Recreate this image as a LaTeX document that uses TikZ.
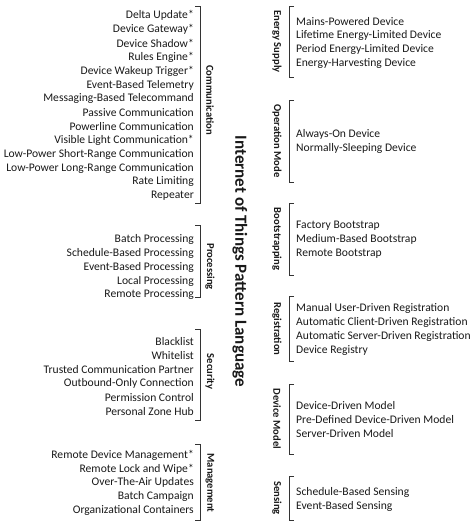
\documentclass[tikz,border=0pt]{standalone}
\usepackage{fontspec}
\setmainfont{Carlito}
\usepackage{tikz}

\begin{document}
\begin{tikzpicture}[x=1pt, y=-1pt, every node/.style={font=\fontsize{11.6}{13}\selectfont, inner sep=0pt, text=black!90},
    lefttext/.style={anchor=east}, righttext/.style={anchor=west},
    grouplabel/.style={font=\bfseries\fontsize{10.6}{12}\selectfont, rotate=-90},
    bracket/.style={draw=black!80, line width=1pt}]
    \useasboundingbox (0,0) rectangle (474,527);

    % Title
    \node[font=\bfseries\fontsize{17}{19}\selectfont, rotate=-90] (title) at (240, 261.5) {Internet of Things Pattern Language};

    % Communication
    \foreach \i/\txt in {0/Delta Update*, 1/Device Gateway*, 2/Device Shadow*, 3/Rules Engine*, 4/Device Wakeup Trigger*, 5/Event-Based Telemetry, 6/Messaging-Based Telecommand, 7/Passive Communication, 8/Powerline Communication, 9/Visible Light Communication*, 10/Low-Power Short-Range Communication, 11/Low-Power Long-Range Communication, 12/Rate Limiting, 13/Repeater} {
        \node[lefttext] (comm\i) at (194, 15.7+\i*13.85) {\txt};
    }
    \draw[bracket] (195,7) -- (200,7) -- (200,203) -- (195,203);
    \node[grouplabel] (commlabel) at (210, 100) {Communication};

    % Processing
    \foreach \i/\txt in {0/Batch Processing, 1/Schedule-Based Processing, 2/Event-Based Processing, 3/Local Processing, 4/Remote Processing} {
        \node[lefttext] (proc\i) at (194, 239.3+\i*13.9) {\txt};
    }
    \draw[bracket] (195,225.7) -- (200,225.7) -- (200,297) -- (195,297);
    \node[grouplabel] (proclabel) at (210, 266.7) {Processing};

    % Security
    \foreach \i/\txt in {0/Blacklist, 1/Whitelist, 2/Trusted Communication Partner, 3/Outbound-Only Connection, 4/Permission Control, 5/Personal Zone Hub} {
        \node[lefttext] (sec\i) at (194, 341.7+\i*13.9) {\txt};
    }
    \draw[bracket] (195,329) -- (200,329) -- (200,420.7) -- (195,420.7);
    \node[grouplabel] (seclabel) at (210, 371.7) {Security};

    % Management
    \foreach \i/\txt in {0/Remote Device Management*, 1/Remote Lock and Wipe*, 2/Over-The-Air Updates, 3/Batch Campaign, 4/Organizational Containers} {
        \node[lefttext] (mgmt\i) at (194, 455+\i*13.9) {\txt};
    }
    \draw[bracket] (195,444) -- (200,444) -- (200,520) -- (195,520);
    \node[grouplabel] (mgmtlabel) at (210, 483) {Management};

    % Energy Supply
    \foreach \i/\txt in {0/Mains-Powered Device, 1/Lifetime Energy-Limited Device, 2/Period Energy-Limited Device, 3/Energy-Harvesting Device} {
        \node[righttext] (energy\i) at (296, 22+\i*13.8) {\txt};
    }
    \draw[bracket] (294,6.7) -- (289.3,6.7) -- (289.3,77.7) -- (294,77.7);
    \node[grouplabel] (energylabel) at (277, 41.7) {Energy Supply};

    % Operation Mode
    \foreach \i/\txt in {0/Always-On Device, 1/Normally-Sleeping Device} {
        \node[righttext] (opmode\i) at (296, 134.3+\i*13.8) {\txt};
    }
    \draw[bracket] (294,100) -- (289.3,100) -- (289.3,182.3) -- (294,182.3);
    \node[grouplabel] (opmodelabel) at (277, 141) {Operation Mode};

    % Bootstrapping
    \foreach \i/\txt in {0/Factory Bootstrap, 1/Medium-Based Bootstrap, 2/Remote Bootstrap} {
        \node[righttext] (boot\i) at (296, 225.7+\i*13.8) {\txt};
    }
    \draw[bracket] (294,203.3) -- (289.3,203.3) -- (289.3,275) -- (294,275);
    \node[grouplabel] (bootlabel) at (277, 239) {Bootstrapping};

    % Registration
    \foreach \i/\txt in {0/Manual User-Driven Registration, 1/Automatic Client-Driven Registration, 2/Automatic Server-Driven Registration, 3/Device Registry} {
        \node[righttext] (reg\i) at (296, 308.7+\i*13.9) {\txt};
    }
    \draw[bracket] (294,296.7) -- (289.3,296.7) -- (289.3,361.7) -- (294,361.7);
    \node[grouplabel] (reglabel) at (277, 329) {Registration};

    % Device Model
    \foreach \i/\txt in {0/Device-Driven Model, 1/Pre-Defined Device-Driven Model, 2/Server-Driven Model} {
        \node[righttext] (model\i) at (296, 406+\i*13.85) {\txt};
    }
    \draw[bracket] (294,384.3) -- (289.3,384.3) -- (289.3,454.3) -- (294,454.3);
    \node[grouplabel] (modellabel) at (277, 419) {Device Model};

    % Sensing
    \foreach \i/\txt in {0/Schedule-Based Sensing, 1/Event-Based Sensing} {
        \node[righttext] (sens\i) at (296, 492.3+\i*13.8) {\txt};
    }
    \draw[bracket] (294,476.7) -- (289.3,476.7) -- (289.3,520) -- (294,520);
    \node[grouplabel] (senslabel) at (277, 498) {Sensing};
\end{tikzpicture}
\end{document}
